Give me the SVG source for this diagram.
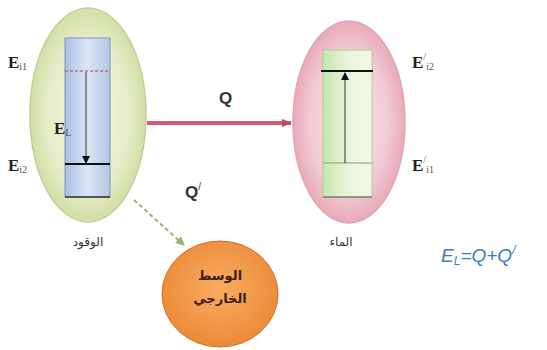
<svg xmlns="http://www.w3.org/2000/svg" width="547" height="350" viewBox="0 0 547 350">
<style>
.lbl{font-family:"Liberation Serif",serif;font-weight:bold;font-size:17px;fill:#222}
.sub{font-size:10px;font-weight:normal;fill:#555}
.q{font-family:"Liberation Sans",Arial,sans-serif;font-weight:bold;font-size:17px;fill:#333}
.ar{font-family:"Noto Sans","DejaVu Sans",sans-serif;font-size:12px;fill:#333;text-anchor:middle}
.arb{font-family:"Noto Sans","DejaVu Sans",sans-serif;font-size:13px;font-weight:bold;fill:#3a2010;text-anchor:middle}
</style>
<defs>
<radialGradient id="gL" cx="0.5" cy="0.5" r="0.5">
<stop offset="0" stop-color="#f2f5e0"/><stop offset="0.7" stop-color="#e6edc8"/><stop offset="1" stop-color="#d2dfa6"/>
</radialGradient>
<radialGradient id="gR" cx="0.5" cy="0.5" r="0.5">
<stop offset="0" stop-color="#f8e4e8"/><stop offset="0.7" stop-color="#f1ccd3"/><stop offset="1" stop-color="#e8aab7"/>
</radialGradient>
<radialGradient id="gO" cx="0.5" cy="0.45" r="0.55">
<stop offset="0" stop-color="#f9ad62"/><stop offset="1" stop-color="#ec8a38"/>
</radialGradient>
<linearGradient id="gB" x1="0" y1="0" x2="1" y2="0">
<stop offset="0" stop-color="#a9bfe2"/><stop offset="0.5" stop-color="#dbe6f5"/><stop offset="1" stop-color="#b3c7e6"/>
</linearGradient>
<linearGradient id="gG" x1="0" y1="0" x2="1" y2="0">
<stop offset="0" stop-color="#c6e6ad"/><stop offset="0.5" stop-color="#e8f5d8"/><stop offset="1" stop-color="#f3f7e6"/>
</linearGradient>
<marker id="mk" markerWidth="8" markerHeight="8" refX="7" refY="4" orient="auto" markerUnits="userSpaceOnUse">
<path d="M0,0 L8,4 L0,8 z" fill="#111"/>
</marker>
<marker id="mr" markerWidth="10" markerHeight="10" refX="9" refY="5" orient="auto" markerUnits="userSpaceOnUse">
<path d="M0,1 L10,5 L0,9 z" fill="#c04a64"/>
</marker>
<marker id="mg" markerWidth="9" markerHeight="9" refX="8" refY="4.5" orient="auto" markerUnits="userSpaceOnUse">
<path d="M0,0 L9,4.5 L0,9 z" fill="#9cb070"/>
</marker>
</defs>

<g id="fuel">
<ellipse cx="88" cy="115" rx="58" ry="107" fill="url(#gL)" stroke="#c0cf98" stroke-width="1.5"/>
<rect x="65" y="38" width="45" height="159" fill="url(#gB)" stroke="#7f96bb" stroke-width="1"/>
<line x1="65" y1="71" x2="109" y2="71" stroke="#b04040" stroke-width="1" stroke-dasharray="3,2"/>
<line x1="65" y1="164" x2="110" y2="164" stroke="#111" stroke-width="2"/>
<line x1="65" y1="197" x2="110" y2="197" stroke="#333" stroke-width="1.5"/>
<line x1="86" y1="72" x2="86" y2="163" stroke="#333" stroke-width="1" marker-end="url(#mk)"/>
<text class="lbl" x="8" y="68">E<tspan class="sub" dy="2">i1</tspan></text>
<text class="lbl" x="54" y="134">E<tspan class="sub" dy="2">L</tspan></text>
<text class="lbl" x="8" y="171">E<tspan class="sub" dy="2">i2</tspan></text>
<text class="ar" x="88" y="246">الوقود</text>
</g>

<g id="water">
<ellipse cx="349" cy="122" rx="56" ry="101" fill="url(#gR)" stroke="#e0a6b2" stroke-width="1.5"/>
<rect x="323" y="50" width="49" height="147" fill="url(#gG)" stroke="#b8c8a0" stroke-width="1"/>
<line x1="323" y1="163" x2="372" y2="163" stroke="#8a9a7a" stroke-width="1"/>
<line x1="323" y1="197" x2="372" y2="197" stroke="#555" stroke-width="1"/>
<line x1="321" y1="71" x2="373" y2="71" stroke="#111" stroke-width="2"/>
<line x1="345" y1="163" x2="345" y2="73" stroke="#333" stroke-width="1" marker-end="url(#mk)"/>
<text class="lbl" x="412" y="68">E<tspan class="sub" dy="-8">/</tspan><tspan class="sub" dy="10">i2</tspan></text>
<text class="lbl" x="412" y="171">E<tspan class="sub" dy="-8">/</tspan><tspan class="sub" dy="10">i1</tspan></text>
<text class="ar" x="341" y="246">الماء</text>
</g>

<g id="medium">
<ellipse cx="220" cy="294" rx="58" ry="53" fill="url(#gO)" stroke="#d07025" stroke-width="1"/>
<text class="arb" x="220" y="280">الوسط</text>
<text class="arb" x="220" y="303">الخارجي</text>
</g>

<g id="connectors">
<line x1="147" y1="123" x2="291" y2="123" stroke="#d05a78" stroke-width="4" marker-end="url(#mr)"/>
<line x1="134" y1="200" x2="184" y2="245" stroke="#9cb070" stroke-width="2" stroke-dasharray="4,3" marker-end="url(#mg)"/>
<text class="q" x="219" y="104">Q</text>
<text class="q" x="185" y="198">Q<tspan font-size="10" font-weight="normal" dy="-8">/</tspan></text>
</g>

<text x="441" y="262" font-family="Liberation Sans,Arial,sans-serif" font-size="19" font-style="italic" fill="#3b7cc4">E<tspan font-size="12" dy="3">L</tspan><tspan dy="-3">=Q+Q</tspan><tspan font-size="12" dy="-8">/</tspan></text>
</svg>
